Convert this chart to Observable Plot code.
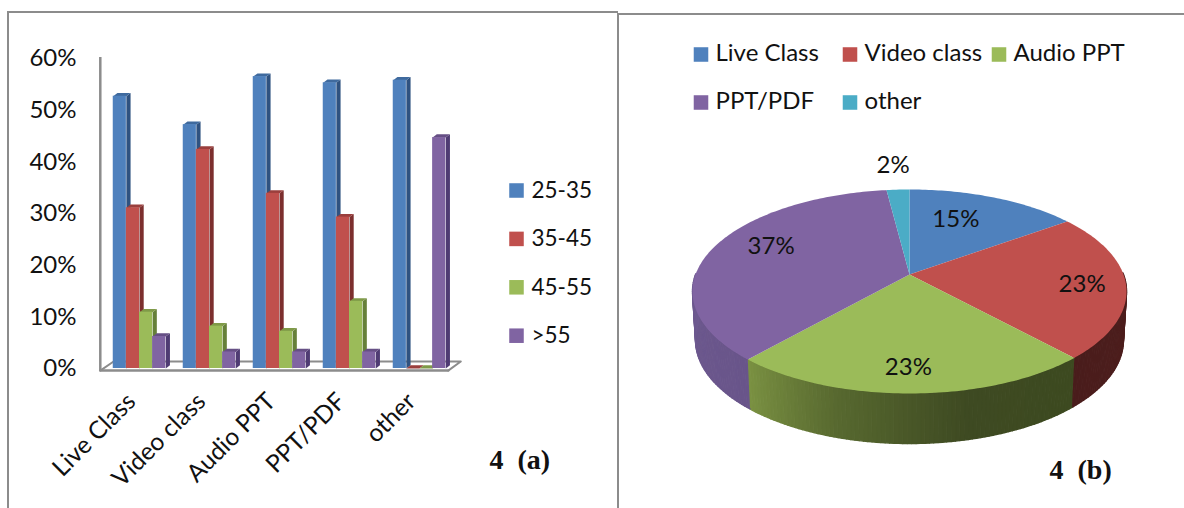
<!DOCTYPE html>
<html><head><meta charset="utf-8">
<script src="https://cdn.jsdelivr.net/npm/d3@7"></script>
<script src="https://cdn.jsdelivr.net/npm/@observablehq/plot@0.6"></script>
<style>
html,body{margin:0;padding:0;background:#fff;overflow:hidden}
#page{position:relative;width:1184px;height:508px;overflow:hidden}
#page svg{position:absolute;top:0;background:transparent;max-width:none}
.edge{position:absolute;background:#8c8c8c}
</style></head><body>
<div id="page">
<div class="edge" style="left:7px;top:11px;width:2px;height:497px"></div>
<div class="edge" style="left:7px;top:11px;width:611px;height:2px"></div>
<div class="edge" style="left:617px;top:13px;width:2px;height:495px"></div>
<div class="edge" style="left:617px;top:13px;width:567px;height:2px"></div>
</div>
<script>
const categories = ["Live Class","Video class","Audio PPT","PPT/PDF","other"];
const ageGroups = ["25-35","35-45","45-55",">55"];
const age2535 = [52.7,47.2,56.5,55.3,55.8];
const age3545 = [31.1,42.4,33.9,29.3,0];
const age4555 = [10.9,8.2,7.2,13.0,0];
const ageOver55 = [6.2,3.2,3.2,3.2,44.7];
const yTicks = [0,10,20,30,40,50,60];
const shares = [15,23.2,23.3,36.5,2];
const shareLabels = ["15%","23%","23%","37%","2%"];

const front = ["#4F81BD","#C0504D","#9BBB59","#8064A2","#4BACC6"];
const side  = ["#2F5280","#7C2F2E","#66803A","#4F3B73"];
const lid   = ["#3F6A9E","#9A3F3D","#7F9A48","#664F85"];
const ink = "#111";
const sans = "Lato, 'Open Sans', sans-serif";
const serif = "'Liberation Serif', serif";
const gray = "#8c8c8c";

/* ---------- 4(a): 3-D clustered columns ---------- */
const seriesValues = [age2535,age3545,age4555,ageOver55];
const barW = 0.1875, barStart = 0.125, dx3 = 0.06, dy3 = 0.62;
const rows = seriesValues.map((vals,s)=>vals.map((v,g)=>({g,s,v,x1:g+barStart+s*barW,x2:g+barStart+(s+1)*barW})));
const sidePts = r => [[r.x2,0],[r.x2+dx3,dy3],[r.x2+dx3,r.v+dy3],[r.x2,r.v]].map(p=>({x:p[0],y:p[1],z:r.g}));
const lidPts  = r => [[r.x1,r.v],[r.x1+dx3,r.v+dy3],[r.x2+dx3,r.v+dy3],[r.x2,r.v]].map(p=>({x:p[0],y:p[1],z:r.g}));

const floorPts = [[-0.06,-0.4],[0.13,1.35],[5.09,1.35],[4.91,-0.4]].map(p=>({x:p[0],y:p[1]}));
const barMarks = rows.flatMap((list,s)=>[
  Plot.line(list.flatMap(sidePts),{x:"x",y:"y",z:"z",fill:side[s],stroke:"none"}),
  Plot.line(list.flatMap(lidPts),{x:"x",y:"y",z:"z",fill:lid[s],stroke:"none"}),
  Plot.rect(list,{x1:"x1",x2:"x2",y1:0,y2:"v",fill:front[s]})
]);
const leftMargin = 100;
const legendA = ageGroups.flatMap((name,i)=>{
  const top = 190 + i*48.4;
  return [
    Plot.dot([name],{frameAnchor:"top-left",dx:516-leftMargin,dy:top,r:8.2,symbol:"square",fill:front[i],stroke:"none"}),
    Plot.text([name],{frameAnchor:"top-left",dx:531-leftMargin,dy:top,text:d=>d,textAnchor:"start",lineAnchor:"middle",fontSize:22.5,fontFamily:sans,fill:ink})
  ];
});
const chartA = Plot.plot({
  width:617,height:508,marginLeft:leftMargin,marginTop:0,marginRight:0,marginBottom:0,
  style:{background:"transparent",overflow:"visible"},
  x:{domain:[0,5],range:[104,454],axis:null},
  y:{domain:[0,60],range:[368,58],axis:null},
  marks:[
    Plot.line(floorPts,{x:"x",y:"y",fill:"#fff",stroke:gray,strokeWidth:2}),
    Plot.line([{x:-0.06,y:-0.4},{x:4.91,y:-0.4}],{x:"x",y:"y",stroke:gray,strokeWidth:2.5}),
    Plot.ruleX([-0.06],{y1:-0.4,y2:60.2,stroke:gray,strokeWidth:2.5}),
    ...barMarks,
    Plot.axisY({ticks:yTicks,tickSize:0,tickPadding:24,tickFormat:d=>d+"%",label:null,fontSize:24,fontFamily:sans,color:ink}),
    Plot.text(categories,{x:(d,i)=>i+0.5,y:0,text:d=>d,rotate:-45,textAnchor:"end",dx:-8,dy:29,fontSize:24.5,fontFamily:sans,fill:ink}),
    ...legendA,
    Plot.text(["4\u00a0\u00a0(a)"],{frameAnchor:"top-left",dx:489-leftMargin,dy:460,text:d=>d,textAnchor:"start",lineAnchor:"middle",fontSize:28,fontWeight:"bold",fontFamily:serif,fill:ink})
  ]
});
chartA.style.left="0px";
document.getElementById("page").appendChild(chartA);

/* ---------- 4(b): perspective 3-D pie, unit circle projected on the ellipse ---------- */
const persp = 1/6, xScale = Math.sqrt(35/36);
function project(theta,r=1){
  const u=r*Math.sin(theta), v=r*Math.cos(theta), w=1+persp*v;
  return {x:xScale*u/w, y:(v+persp)/w};
}
const wallDepth=0.475, wallX=0.986, wallY=1.015;
const lower = p => ({x:p.x*wallX,y:p.y*wallY-wallDepth});
const arcs = d3.pie().sort(null).value(d=>d)(shares);
const step = Math.PI/180;
function angleRange(a){const out=[];for(let t=a.startAngle;t<a.endAngle;t+=step)out.push(t);out.push(a.endAngle);return out;}
const sliceMarks = arcs.map((a,i)=>Plot.line(
  [{x:0,y:persp},...angleRange(a).map(t=>project(t))],
  {x:"x",y:"y",fill:front[i],stroke:"none"}));

/* side wall: thin quads, shaded along the rim */
const wallShades = {
  1:{t:[0,1],c:["#4f1f1e","#4a1d1c"]},
  2:{t:[0,0.35,0.7,1],c:["#3d4a20","#3e4a22","#57682f","#7a9142"]},
  3:{t:[0,1],c:["#69558a","#6e5a90"]}
};
const wallMarks = [];
arcs.forEach((a,i)=>{
  if(!wallShades[i]) return;
  const angles = angleRange(a).filter(t=>Math.cos(t)<=0.02);
  const shade = d3.scaleLinear().domain(wallShades[i].t).range(wallShades[i].c).interpolate(d3.interpolateRgb);
  for(let k=0;k<angles.length-1;k++){
    const f=k/(angles.length-2||1);
    const p0=project(angles[k]), p1=project(angles[k+1]);
    const col=shade(f);
    wallMarks.push(Plot.line([p0,p1,lower(p1),lower(p0)],{x:"x",y:"y",fill:col,stroke:col,strokeWidth:1.4}));
  }
});
const labelRadius=[0.55,0.8,0.8,0.7,1.3];
const labelNudge=[[-3,-10],[0,2],[-3,1],[0,-8],[-2,-3]];
const pieLabels = arcs.map((a,i)=>{
  const p=project((a.startAngle+a.endAngle)/2,labelRadius[i]);
  return Plot.text([shareLabels[i]],{x:()=>p.x,y:()=>p.y,text:d=>d,dx:labelNudge[i][0],dy:labelNudge[i][1],fontSize:24,fontFamily:sans,fill:ink});
});
const legendColumns=[76,225,374], legendRows=[53,101];
const legendB = categories.flatMap((name,i)=>{
  const left=legendColumns[i%3], top=legendRows[Math.floor(i/3)];
  return [
    Plot.dot([name],{frameAnchor:"top-left",dx:left+7.5,dy:top+1,r:8.2,symbol:"square",fill:front[i],stroke:"none"}),
    Plot.text([name],{frameAnchor:"top-left",dx:left+22,dy:top,text:d=>d,textAnchor:"start",lineAnchor:"middle",fontSize:24,fontFamily:sans,fill:ink})
  ];
});
const chartB = Plot.plot({
  width:567,height:508,margin:0,
  style:{background:"transparent",overflow:"visible"},
  x:{domain:[-1,1],range:[75,509],axis:null},
  y:{domain:[-1,1],range:[393,189],axis:null},
  marks:[
    ...wallMarks,
    ...sliceMarks,
    ...pieLabels,
    ...legendB,
    Plot.text(["4\u00a0\u00a0(b)"],{frameAnchor:"top-left",dx:432,dy:470,text:d=>d,textAnchor:"start",lineAnchor:"middle",fontSize:28,fontWeight:"bold",fontFamily:serif,fill:ink})
  ]
});
chartB.style.left="617px";
document.getElementById("page").appendChild(chartB);
</script>
</body></html>
